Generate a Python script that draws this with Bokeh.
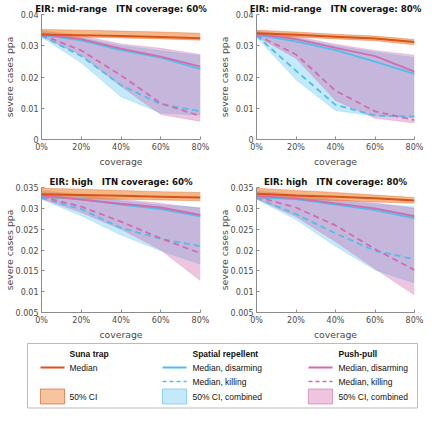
from bokeh.plotting import figure
from bokeh.layouts import column, row
from bokeh.models import Range1d, FixedTicker, CustomJSTickFormatter, Title
from bokeh.embed import file_html
from bokeh.resources import INLINE
from bokeh.core.properties import value

# ---------------- data ----------------
coverage = [0.0, 0.2, 0.4, 0.6, 0.8]
x_ticks = [0.0, 0.2, 0.4, 0.6, 0.8]
x_tick_labels = ["0%", "20%", "40%", "60%", "80%"]
top_y_ticks = [0.0, 0.01, 0.02, 0.03, 0.04]
bottom_y_ticks = [0.005, 0.01, 0.015, 0.02, 0.025, 0.03, 0.035]

GAP = "\u00a0\u00a0 "
title_a = "EIR: mid-range" + GAP + "ITN coverage: 60%"
title_b = "EIR: mid-range" + GAP + "ITN coverage: 80%"
title_c = "EIR: high" + GAP + "ITN coverage: 60%"
title_d = "EIR: high" + GAP + "ITN coverage: 80%"

# panel A: EIR mid-range, ITN 60%
a_suna_med = [0.0336, 0.0334, 0.0331, 0.0328, 0.0324]
a_suna_lo = [0.0330, 0.0328, 0.0325, 0.0322, 0.0318]
a_suna_hi = [0.0352, 0.0350, 0.0347, 0.0344, 0.0340]
a_sr_dis = [0.0335, 0.0317, 0.0286, 0.0262, 0.0225]
a_sr_kill = [0.0332, 0.0267, 0.0174, 0.0113, 0.0090]
a_sr_lo = [0.0328, 0.0246, 0.0137, 0.0085, 0.0078]
a_sr_hi = [0.0345, 0.0326, 0.0301, 0.0284, 0.0268]
a_pp_dis = [0.0337, 0.0321, 0.0291, 0.0265, 0.0233]
a_pp_kill = [0.0335, 0.0285, 0.0205, 0.0116, 0.0075]
a_pp_lo = [0.0330, 0.0270, 0.0170, 0.0080, 0.0058]
a_pp_hi = [0.0348, 0.0333, 0.0306, 0.0292, 0.0272]

# panel B: EIR mid-range, ITN 80%
b_suna_med = [0.0340, 0.0335, 0.0329, 0.0323, 0.0312]
b_suna_lo = [0.0333, 0.0328, 0.0322, 0.0316, 0.0303]
b_suna_hi = [0.0350, 0.0344, 0.0337, 0.0331, 0.0320]
b_sr_dis = [0.0335, 0.0314, 0.0286, 0.0249, 0.0210]
b_sr_kill = [0.0332, 0.0220, 0.0111, 0.0077, 0.0073]
b_sr_lo = [0.0328, 0.0191, 0.0093, 0.0075, 0.0071]
b_sr_hi = [0.0345, 0.0325, 0.0300, 0.0280, 0.0262]
b_pp_dis = [0.0338, 0.0321, 0.0293, 0.0267, 0.0217]
b_pp_kill = [0.0335, 0.0272, 0.0156, 0.0090, 0.0062]
b_pp_lo = [0.0330, 0.0260, 0.0125, 0.0068, 0.0053]
b_pp_hi = [0.0348, 0.0330, 0.0305, 0.0285, 0.0270]

# panel C: EIR high, ITN 60%
c_suna_med = [0.0334, 0.0332, 0.0330, 0.0328, 0.0326]
c_suna_lo = [0.0325, 0.0323, 0.0322, 0.0320, 0.0318]
c_suna_hi = [0.0348, 0.0346, 0.0343, 0.0340, 0.0338]
c_sr_dis = [0.0328, 0.0322, 0.0309, 0.0298, 0.0281]
c_sr_kill = [0.0325, 0.0298, 0.0253, 0.0227, 0.0209]
c_sr_lo = [0.0322, 0.0282, 0.0236, 0.0198, 0.0166]
c_sr_hi = [0.0338, 0.0330, 0.0318, 0.0308, 0.0302]
c_pp_dis = [0.0331, 0.0321, 0.0311, 0.0302, 0.0284]
c_pp_kill = [0.0328, 0.0304, 0.0268, 0.0228, 0.0192]
c_pp_lo = [0.0323, 0.0290, 0.0250, 0.0200, 0.0126]
c_pp_hi = [0.0342, 0.0333, 0.0322, 0.0312, 0.0300]

# panel D: EIR high, ITN 80%
d_suna_med = [0.0335, 0.0331, 0.0328, 0.0324, 0.0319]
d_suna_lo = [0.0325, 0.0322, 0.0319, 0.0315, 0.0312]
d_suna_hi = [0.0348, 0.0343, 0.0338, 0.0332, 0.0326]
d_sr_dis = [0.0327, 0.0322, 0.0309, 0.0296, 0.0276]
d_sr_kill = [0.0325, 0.0286, 0.0240, 0.0198, 0.0178]
d_sr_lo = [0.0322, 0.0273, 0.0209, 0.0152, 0.0121]
d_sr_hi = [0.0338, 0.0330, 0.0318, 0.0310, 0.0304]
d_pp_dis = [0.0330, 0.0324, 0.0312, 0.0300, 0.0281]
d_pp_kill = [0.0328, 0.0302, 0.0259, 0.0202, 0.0152]
d_pp_lo = [0.0323, 0.0280, 0.0220, 0.0155, 0.0092]
d_pp_hi = [0.0342, 0.0333, 0.0322, 0.0313, 0.0300]

# ---------------- styles ----------------
ORANGE = "#D95319"
ORANGE_FILL = "#EE8A3C"
BLUE = "#4DBEEE"
PINK = "#D36BAE"
PINK_FILL = "#C8509F"
AXIS_C = "#8C8C8C"
TEXT_C = "#4A4A4A"
FONT = "DejaVu Sans"
LFONT = "Liberation Sans"
BAND_A = 0.33
SUNA_A = 0.62

x_fmt = CustomJSTickFormatter(code="return Math.round(tick*100) + '%';")
y_fmt = CustomJSTickFormatter(code="return (Math.round(tick*1000)/1000).toString();")


def make_panel(title, ymin, ymax, yticks, lbl_standoff, width, bl, br,
               suna_med, suna_lo, suna_hi, sr_dis, sr_kill, sr_lo, sr_hi,
               pp_dis, pp_kill, pp_lo, pp_hi, height, bb):
    p = figure(width=width, height=height, output_backend="svg", toolbar_location=None,
               x_range=Range1d(0, 0.8), y_range=Range1d(ymin, ymax),
               min_border_left=bl, min_border_right=br, min_border_top=14,
               min_border_bottom=bb, title=None)
    p.add_layout(Title(text=title, align="center", text_font=FONT, text_font_size="8.6px",
                       text_font_style="bold", text_color="#111111", standoff=1,
                       offset=0), "above")
    p.outline_line_color = None
    p.background_fill_color = "white"
    p.border_fill_color = "white"
    p.xgrid.visible = False
    p.ygrid.visible = False

    # bands
    p.varea(x=coverage, y1=sr_lo, y2=sr_hi, fill_color=BLUE, fill_alpha=BAND_A)
    p.varea(x=coverage, y1=pp_lo, y2=pp_hi, fill_color=PINK_FILL, fill_alpha=BAND_A)
    for yy in (sr_lo, sr_hi):
        p.line(coverage, yy, line_color=BLUE, line_alpha=0.3, line_width=0.8)
    for yy in (pp_lo, pp_hi):
        p.line(coverage, yy, line_color=PINK, line_alpha=0.3, line_width=0.8)
    p.varea(x=coverage, y1=suna_lo, y2=suna_hi, fill_color=ORANGE_FILL, fill_alpha=SUNA_A)
    for yy in (suna_lo, suna_hi):
        p.line(coverage, yy, line_color=ORANGE, line_alpha=0.4, line_width=0.8)

    # medians
    p.line(coverage, sr_kill, line_color=BLUE, line_width=1.8, line_dash="6 4")
    p.line(coverage, pp_kill, line_color=PINK, line_width=1.8, line_dash="6 4")
    p.line(coverage, sr_dis, line_color=BLUE, line_width=1.8)
    p.line(coverage, pp_dis, line_color=PINK, line_width=1.8)
    p.line(coverage, suna_med, line_color=ORANGE, line_width=2)

    xa = p.xaxis[0]
    xa.ticker = FixedTicker(ticks=x_ticks)
    xa.formatter = x_fmt
    xa.axis_label = "coverage"
    ya = p.yaxis[0]
    ya.ticker = FixedTicker(ticks=yticks)
    ya.formatter = y_fmt
    ya.axis_label = "severe cases ppa"
    ya.axis_label_standoff = lbl_standoff
    xa.axis_label_standoff = 1
    for ax in (xa, ya):
        ax.axis_line_color = AXIS_C
        ax.major_tick_line_color = AXIS_C
        ax.major_tick_in = 3
        ax.major_tick_out = 0
        ax.minor_tick_line_color = None
        ax.major_label_text_font = FONT
        ax.major_label_text_font_size = "8px"
        ax.major_label_text_color = TEXT_C
        ax.major_label_standoff = 3
        ax.axis_label_text_font = FONT
        ax.axis_label_text_font_size = "9.3px"
        ax.axis_label_text_font_style = "normal"
        ax.axis_label_text_color = TEXT_C
    return p


pa = make_panel(title_a, 0, 0.04, top_y_ticks, 3, 215, 36, 15,
                a_suna_med, a_suna_lo, a_suna_hi, a_sr_dis, a_sr_kill, a_sr_lo, a_sr_hi,
                a_pp_dis, a_pp_kill, a_pp_lo, a_pp_hi, 173, 34)
pb = make_panel(title_b, 0, 0.04, top_y_ticks, 3, 209, 36, 10,
                b_suna_med, b_suna_lo, b_suna_hi, b_sr_dis, b_sr_kill, b_sr_lo, b_sr_hi,
                b_pp_dis, b_pp_kill, b_pp_lo, b_pp_hi, 173, 34)
pc = make_panel(title_c, 0.005, 0.035, bottom_y_ticks, -2, 215, 36, 15,
                c_suna_med, c_suna_lo, c_suna_hi, c_sr_dis, c_sr_kill, c_sr_lo, c_sr_hi,
                c_pp_dis, c_pp_kill, c_pp_lo, c_pp_hi, 169, 30)
pd = make_panel(title_d, 0.005, 0.035, bottom_y_ticks, -2, 209, 36, 10,
                d_suna_med, d_suna_lo, d_suna_hi, d_sr_dis, d_sr_kill, d_sr_lo, d_sr_hi,
                d_pp_dis, d_pp_kill, d_pp_lo, d_pp_hi, 169, 30)

# ---------------- legend panel ----------------
LW, LH = 424, 67
leg = figure(width=LW, height=LH, output_backend="svg", toolbar_location=None,
             x_range=Range1d(0, LW), y_range=Range1d(LH, 0),
             min_border_left=0, min_border_right=0, min_border_top=0, min_border_bottom=0)
leg.axis.visible = False
leg.grid.visible = False
leg.outline_line_color = None

leg_groups = ["Suna trap", "Spatial repellent", "Push-pull"]
leg_rows = [["Median", "", "50% CI"],
            ["Median, disarming", "Median, killing", "50% CI, combined"],
            ["Median, disarming", "Median, killing", "50% CI, combined"]]
leg_colors = [ORANGE, BLUE, PINK]
leg_fills = [ORANGE_FILL, BLUE, PINK_FILL]
leg_fill_alpha = [0.5, BAND_A, BAND_A]

col_line_x = [40, 162, 308]
col_text_x = [69, 192, 338]
row_y = [11, 25, 39, 54]

leg.quad(left=[27], right=[417], top=[1], bottom=[65.5], fill_color=None,
         line_color="#BBBBBB", line_width=1)
for i in range(3):
    lx0 = col_line_x[i]
    tx = col_text_x[i]
    leg.text(x=[tx], y=[row_y[0]], text=[leg_groups[i]], text_font=value(LFONT),
             text_font_size="8.5px", text_font_style="bold", text_baseline="middle",
             text_align="left", text_color="#111111")
    labels = leg_rows[i]
    leg.line([lx0, lx0 + 24], [row_y[1], row_y[1]], line_color=leg_colors[i], line_width=2)
    leg.text(x=[tx], y=[row_y[1]], text=[labels[0]], text_font=value(LFONT),
             text_font_size="8.5px", text_baseline="middle", text_align="left",
             text_color="#111111")
    if labels[1]:
        leg.line([lx0, lx0 + 24], [row_y[2], row_y[2]], line_color=leg_colors[i],
                 line_width=1.6, line_dash="4 3")
        leg.text(x=[tx], y=[row_y[2]], text=[labels[1]], text_font=value(LFONT),
                 text_font_size="8.5px", text_baseline="middle", text_align="left",
                 text_color="#111111")
    leg.quad(left=[lx0], right=[lx0 + 24], top=[row_y[3] - 7.5], bottom=[row_y[3] + 7.5],
             fill_color=leg_fills[i], fill_alpha=leg_fill_alpha[i],
             line_color=leg_colors[i], line_alpha=0.6, line_width=1)
    leg.text(x=[tx], y=[row_y[3]], text=[labels[2]], text_font=value(LFONT),
             text_font_size="8.5px", text_baseline="middle", text_align="left",
             text_color="#111111")

layout = column(row(pa, pb), row(pc, pd), leg)
open("out.html", "w").write(file_html(layout, INLINE))
